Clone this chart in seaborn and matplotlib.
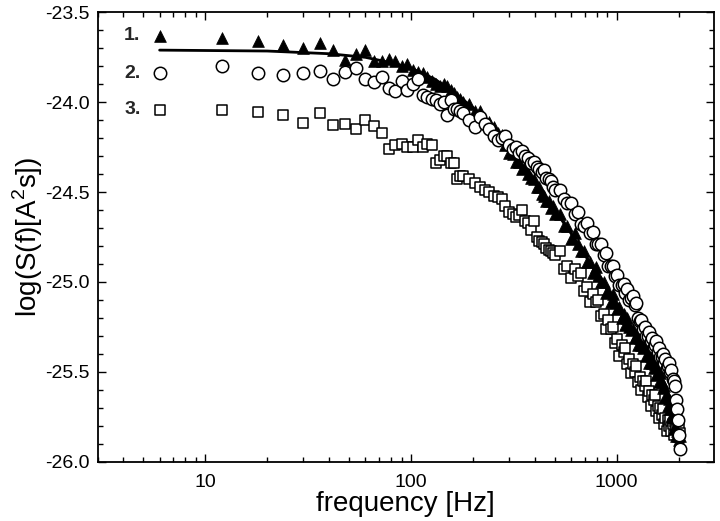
import numpy as np
import pandas as pd
import matplotlib
matplotlib.use("Agg")
import matplotlib.pyplot as plt
from matplotlib.ticker import LogLocator, MultipleLocator, FixedLocator, NullFormatter
import seaborn as sns

# frequency grid (Hz), shared by the three measured spectra
freq = [6, 12, 18, 24, 30, 36, 42, 48, 54, 60, 66, 72, 78, 84, 90, 96, 102, 108, 114, 120,
        126, 132, 138, 144, 150, 156, 162, 168, 174, 180,
        192, 204, 216, 228, 240, 252, 264, 276, 288, 300, 312, 324, 336, 348, 360, 372, 384,
        396, 408, 420, 432, 444, 456, 468, 480, 492, 504,
        528, 552, 576, 600, 624, 648, 672, 696, 720, 744, 768, 792, 816, 840, 864, 888, 912,
        936, 960, 984, 1008, 1032, 1056, 1080, 1104, 1128, 1152, 1176, 1200, 1224, 1248,
        1272, 1296, 1320, 1344, 1368, 1392, 1416, 1440, 1464, 1488, 1512, 1536, 1560, 1584,
        1608, 1632, 1656, 1680, 1704, 1728, 1752, 1776, 1800, 1824, 1848, 1872, 1896, 1920,
        1944, 1968, 1992, 2016, 2040]

# series 1 (filled triangles)
s1 = [-23.63, -23.645, -23.66, -23.68, -23.70, -23.67, -23.71, -23.765, -23.73, -23.71,
      -23.77, -23.77, -23.76, -23.77, -23.80, -23.79, -23.82, -23.83, -23.84, -23.86,
      -23.88, -23.90, -23.91, -23.90, -23.91, -23.93, -23.95, -23.97, -23.98, -24.00,
      -24.01, -24.05, -24.05, -24.10, -24.11, -24.14, -24.17, -24.18, -24.24, -24.28,
      -24.29, -24.33, -24.33, -24.37, -24.36, -24.40, -24.42, -24.43, -24.47, -24.47,
      -24.51, -24.52, -24.55, -24.55, -24.59, -24.58, -24.62,
      -24.62, -24.69, -24.69, -24.76, -24.73, -24.79, -24.83, -24.83, -24.89, -24.89,
      -24.95, -24.92, -24.97, -25.00, -25.00, -25.06, -25.05, -25.11, -25.07, -25.12,
      -25.15, -25.14, -25.20, -25.18, -25.24, -25.20, -25.25, -25.27, -25.26, -25.31,
      -25.30, -25.35, -25.31, -25.35, -25.37, -25.36, -25.41, -25.40, -25.45, -25.41,
      -25.45, -25.48, -25.46, -25.52, -25.50, -25.56, -25.51, -25.56, -25.59, -25.58,
      -25.64, -25.63, -25.69, -25.65, -25.71, -25.75, -25.75, -25.82, -25.81, -25.86,
      -25.83, -25.86, -25.88, -25.86]

# series 2 (open circles)
s2 = [-23.84, -23.80, -23.836, -23.85, -23.836, -23.825, -23.873, -23.83, -23.81, -23.87,
      -23.89, -23.86, -23.92, -23.94, -23.88, -23.93, -23.90, -23.87, -23.96, -23.97,
      -23.98, -23.99, -24.01, -24.00, -24.07, -23.99, -24.04, -24.04, -24.05, -24.06,
      -24.10, -24.14, -24.08, -24.12, -24.15, -24.19, -24.21, -24.20, -24.19, -24.24,
      -24.26, -24.25, -24.28, -24.27, -24.30, -24.31, -24.34, -24.33, -24.36, -24.37,
      -24.39, -24.38, -24.42, -24.43, -24.44, -24.47, -24.49,
      -24.49, -24.54, -24.56, -24.56, -24.62, -24.61, -24.68, -24.69, -24.67, -24.73,
      -24.72, -24.79, -24.79, -24.79, -24.85, -24.84, -24.91, -24.91, -24.91, -24.97,
      -24.96, -25.02, -25.02, -25.01, -25.06, -25.04, -25.10, -25.09, -25.08, -25.13,
      -25.12, -25.20, -25.22, -25.21, -25.26, -25.25, -25.30, -25.30, -25.28, -25.33,
      -25.31, -25.36, -25.35, -25.33, -25.39, -25.37, -25.42, -25.42, -25.40, -25.45,
      -25.43, -25.48, -25.47, -25.45, -25.50, -25.49, -25.54, -25.55, -25.58, -25.66,
      -25.71, -25.77, -25.85, -25.93]

# series 3 (open squares)
s3 = [-24.043, -24.043, -24.053, -24.07, -24.115, -24.06, -24.127, -24.123, -24.15, -24.10,
      -24.13, -24.17, -24.26, -24.24, -24.23, -24.25, -24.25, -24.21, -24.25, -24.23,
      -24.24, -24.34, -24.32, -24.30, -24.30, -24.34, -24.34, -24.43, -24.41, -24.41,
      -24.43, -24.45, -24.47, -24.49, -24.50, -24.52, -24.53, -24.54, -24.58, -24.61,
      -24.62, -24.64, -24.63, -24.60, -24.66, -24.67, -24.71, -24.66, -24.75, -24.77,
      -24.78, -24.79, -24.81, -24.82, -24.83, -24.84, -24.85,
      -24.83, -24.93, -24.91, -24.98, -24.93, -24.97, -24.95, -25.05, -25.03, -25.11,
      -25.07, -25.11, -25.10, -25.19, -25.18, -25.26, -25.21, -25.26, -25.25, -25.34,
      -25.32, -25.41, -25.35, -25.39, -25.37, -25.46, -25.43, -25.51, -25.46, -25.50,
      -25.47, -25.56, -25.53, -25.60, -25.55, -25.58, -25.55, -25.64, -25.61, -25.69,
      -25.63, -25.66, -25.63, -25.72, -25.69, -25.76, -25.70, -25.74, -25.71, -25.79,
      -25.76, -25.83, -25.77, -25.80, -25.77, -25.83, -25.79, -25.85, -25.78, -25.80,
      -25.77, -25.83, -25.79, -25.84]

# fitted curve for series 1
fit_freq = [6, 20, 40, 60, 80, 100, 130, 160, 200, 250, 300, 400, 500, 600, 700, 800,
            1000, 1200, 1400, 1600, 1800, 2000]
fit_val = [-23.71, -23.715, -23.73, -23.75, -23.78, -23.81, -23.87, -23.94, -24.03,
           -24.15, -24.27, -24.45, -24.60, -24.73, -24.85, -24.95, -25.13, -25.28, -25.41,
           -25.53, -25.64, -25.76]

series_labels = ["1.", "2.", "3."]
label_y = [-23.63, -23.84, -24.043]

sns.set_style("ticks")
plt.rcParams["font.family"] = ["Liberation Sans", "DejaVu Sans"]
plt.rcParams["mathtext.fontset"] = "custom"
plt.rcParams["mathtext.rm"] = "Liberation Sans"

df = pd.DataFrame({"freq": freq, "s1": s1, "s2": s2, "s3": s3})
fit = pd.DataFrame({"freq": fit_freq, "val": fit_val})

fig = plt.figure(figsize=(7.2, 5.21), dpi=100)
ax = fig.add_axes([0.1357, 0.1142, 0.856, 0.862])

sns.lineplot(data=fit, x="freq", y="val", ax=ax, color="black", linewidth=2.0, zorder=2)
sns.scatterplot(data=df, x="freq", y="s3", ax=ax, marker="s", s=62, facecolor="white",
                edgecolor="black", linewidth=1.1, zorder=3)
sns.scatterplot(data=df, x="freq", y="s1", ax=ax, marker="^", s=72, color="black",
                edgecolor="black", linewidth=0.5, zorder=4)
sns.scatterplot(data=df, x="freq", y="s2", ax=ax, marker="o", s=80, facecolor="white",
                edgecolor="black", linewidth=1.1, zorder=5)

ax.set_xscale("log")
ax.set_xlim(3.0, 2975)
ax.set_ylim(-26.0, -23.5)

ax.xaxis.set_major_locator(FixedLocator([10, 100, 1000]))
ax.xaxis.set_minor_locator(LogLocator(base=10, subs=np.arange(2, 10)))
ax.xaxis.set_minor_formatter(NullFormatter())
ax.set_xticklabels(["10", "100", "1000"])
ax.set_yticks([-26.0, -25.5, -25.0, -24.5, -24.0, -23.5])
ax.set_yticklabels(["-26.0", "-25.5", "-25.0", "-24.5", "-24.0", "-23.5"])
ax.yaxis.set_minor_locator(MultipleLocator(0.1))

ax.tick_params(which="both", direction="in", top=True, right=True, width=1.0,
               color="black", labelcolor="black", labelsize=14)
ax.tick_params(axis="y", pad=6)
ax.tick_params(axis="x", pad=9)
ax.tick_params(which="major", length=6)
ax.tick_params(which="minor", length=3.5)
for sp in ax.spines.values():
    sp.set_linewidth(1.3)
    sp.set_color("black")

for lab, yv in zip(series_labels, label_y):
    ax.text(4.85, yv, lab, fontsize=14, fontweight="bold", ha="right", va="center")

ax.set_xlabel("frequency [Hz]", fontsize=20, color="black")
ax.set_ylabel(r"log(S(f)[A$^\mathregular{2}$s])", fontsize=20, color="black")
ax.xaxis.set_label_coords(0.5, -0.066)
ax.yaxis.set_label_coords(-0.086, 0.5)

fig.savefig("out.png", dpi=100)
